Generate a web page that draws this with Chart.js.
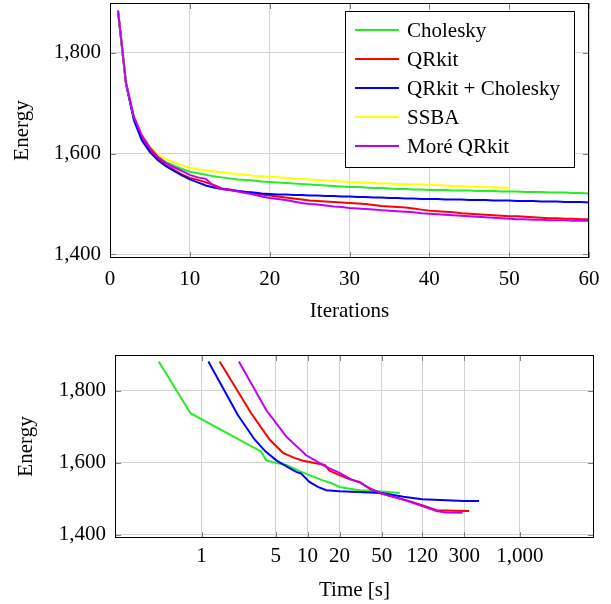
<!DOCTYPE html>
<html>
<head>
<meta charset="utf-8">
<script src="https://cdn.jsdelivr.net/npm/chart.js@4.4.0/dist/chart.umd.min.js"></script>
<style>
  body { margin: 0; background: #fff; }
  #wrap { position: relative; width: 611px; height: 604px; }
  canvas { position: absolute; left: 0; }
  #iterChart { top: 0; }
  #timeChart { top: 335px; }
</style>
</head>
<body>
<div id="wrap">
  <canvas id="iterChart" width="611" height="335"></canvas>
  <canvas id="timeChart" width="611" height="269"></canvas>
</div>
<script>
// ---- data ----
const seriesNames = ['Cholesky', 'QRkit', 'QRkit + Cholesky', 'SSBA', 'Moré QRkit'];
const seriesColors = ['#22ee22', '#ff0000', '#0000ff', '#ffff00', '#bf00ff'];

const yTicks = [1400, 1600, 1800];
const xTicksIter = [0, 10, 20, 30, 40, 50, 60];
const xTicksTime = [1, 5, 10, 20, 50, 120, 300, 1000];

// energy per iteration (iterations 1..n)
const choleskyIter = [1884, 1740, 1672, 1636, 1612, 1594, 1583, 1576, 1570, 1564,
  1561, 1558, 1555, 1553, 1551, 1549, 1548, 1547, 1545, 1544,
  1543, 1542, 1541, 1540, 1539, 1538, 1537, 1536, 1535, 1534,
  1534, 1533, 1532, 1532, 1531, 1530, 1530, 1529, 1529, 1528,
  1528, 1528, 1527, 1527, 1527, 1526, 1526, 1526, 1525, 1525,
  1525, 1524, 1524, 1524, 1523, 1523, 1523, 1522, 1522, 1521];
const qrkitIter = [1884, 1740, 1670, 1632, 1608, 1591, 1578, 1568, 1559, 1552,
  1548, 1543, 1538, 1531, 1529, 1526, 1524, 1522, 1519, 1517,
  1515, 1513, 1511, 1509, 1507, 1506, 1505, 1504, 1503, 1502,
  1501, 1500, 1498, 1496, 1495, 1494, 1493, 1491, 1489, 1487,
  1486, 1485, 1484, 1482, 1481, 1480, 1479, 1478, 1477, 1476,
  1476, 1475, 1474, 1473, 1472, 1472, 1471, 1471, 1470, 1470];
const qrkitCholIter = [1884, 1738, 1666, 1626, 1603, 1587, 1575, 1566, 1557, 1549,
  1543, 1537, 1533, 1530, 1528, 1526, 1524, 1523, 1521, 1520,
  1519, 1519, 1518, 1518, 1517, 1517, 1516, 1516, 1515, 1515,
  1514, 1514, 1513, 1513, 1512, 1512, 1511, 1511, 1510, 1510,
  1510, 1509, 1509, 1509, 1508, 1508, 1508, 1507, 1507, 1507,
  1506, 1506, 1506, 1505, 1505, 1505, 1504, 1504, 1504, 1503];
const ssbaIter = [1884, 1741, 1674, 1638, 1614, 1598, 1589, 1583, 1577, 1572,
  1569, 1567, 1565, 1563, 1561, 1559, 1558, 1556, 1555, 1554,
  1553, 1552, 1551, 1550, 1549, 1548, 1547, 1546, 1545, 1544,
  1543, 1543, 1542, 1541, 1541, 1540, 1540, 1539, 1539, 1538,
  1538, 1537, 1536, 1536, 1535, 1534, 1534, 1533, 1533, 1532];
const moreIter = [1884, 1742, 1673, 1636, 1612, 1594, 1582, 1573, 1566, 1558,
  1553, 1550, 1536, 1530, 1528, 1525, 1522, 1519, 1515, 1512,
  1510, 1508, 1505, 1502, 1500, 1499, 1497, 1495, 1494, 1492,
  1491, 1490, 1489, 1488, 1487, 1486, 1485, 1484, 1482, 1481,
  1480, 1479, 1478, 1477, 1476, 1475, 1474, 1473, 1472, 1471,
  1470, 1470, 1469, 1469, 1468, 1468, 1468, 1467, 1467, 1467];

// energy against wall time [s]
const choleskyTime = [0.395, 0.787, 3.66, 4.07, 5.0, 6.3, 8.4, 10.4, 13.7, 17.3, 20, 25, 31, 50, 74];
const choleskyTimeE = [1882, 1738, 1631, 1607, 1600, 1594, 1577, 1566, 1552, 1542, 1533, 1528, 1524, 1520, 1516];
const qrkitTime = [1.48, 2.94, 4.38, 5.85, 7.5, 9.04, 14.5, 16.1, 20, 24.9, 31, 38.5, 50, 85, 120, 164, 300, 333];
const qrkitTimeE = [1882, 1738, 1665, 1628, 1614, 1606, 1594, 1578, 1566, 1554, 1547, 1528, 1514, 1496, 1482, 1468, 1466, 1466];
const qrkitCholTime = [1.16, 2.2, 3.16, 4.0, 5.07, 6.5, 7.8, 8.7, 10.4, 12.5, 15, 20, 50, 80, 120, 300, 413];
const qrkitCholTimeE = [1882, 1733, 1665, 1632, 1607, 1588, 1575, 1570, 1547, 1533, 1524, 1521, 1516, 1506, 1499, 1494, 1494];
const moreTime = [2.25, 4.07, 6.3, 9.7, 15, 20, 24.9, 31, 40, 50, 85, 120, 164, 200, 288];
const moreTimeE = [1882, 1747, 1673, 1621, 1589, 1572, 1556, 1545, 1527, 1515, 1495, 1480, 1466, 1462, 1461];

// ---- helpers ----
const serif = "'Liberation Serif', 'DejaVu Serif', serif";
const fmt = v => Number(v).toLocaleString('en-US');

function pairs(xs, ys) {
  return ys.map((y, i) => ({ x: xs[i], y: y }));
}
function iterPairs(ys) {
  return ys.map((y, i) => ({ x: i + 1, y: y }));
}

// pgfplots-like frame with small inward tick marks
const framePlugin = {
  id: 'frame',
  beforeDatasetsDraw(chart) {
    const { ctx, chartArea: a, scales } = chart;
    ctx.save();
    ctx.strokeStyle = '#808080';
    ctx.lineWidth = 1;
    ctx.beginPath();
    scales.x.ticks.forEach(t => {
      const px = Math.round(scales.x.getPixelForValue(t.value)) + 0.5;
      ctx.moveTo(px, a.bottom); ctx.lineTo(px, a.bottom - 6);
      ctx.moveTo(px, a.top); ctx.lineTo(px, a.top + 6);
    });
    scales.y.ticks.forEach(t => {
      const py = Math.round(scales.y.getPixelForValue(t.value)) + 0.5;
      ctx.moveTo(a.left, py); ctx.lineTo(a.left + 6, py);
      ctx.moveTo(a.right, py); ctx.lineTo(a.right - 6, py);
    });
    ctx.stroke();
    ctx.restore();
  },
  afterDatasetsDraw(chart) {
    const { ctx, chartArea: a } = chart;
    ctx.save();
    ctx.strokeStyle = '#000';
    ctx.lineWidth = 1;
    ctx.strokeRect(Math.round(a.left) + 0.5, Math.round(a.top) + 0.5,
      Math.round(a.right - a.left) - 1, Math.round(a.bottom - a.top) - 1);
    ctx.restore();
  }
};

// legend box drawn inside the plot area (top right)
const boxLegend = {
  id: 'boxLegend',
  afterDraw(chart) {
    const { ctx, chartArea: a } = chart;
    const sets = chart.data.datasets;
    const w = 229, rowH = 29;
    const h = sets.length * rowH + 11;
    const x0 = a.right - 15 - w, y0 = a.top + 8;
    ctx.save();
    ctx.fillStyle = '#fff';
    ctx.fillRect(x0, y0, w, h);
    ctx.strokeStyle = '#000';
    ctx.lineWidth = 1;
    ctx.strokeRect(x0 + 0.5, y0 + 0.5, w, h);
    ctx.font = '21px ' + serif;
    ctx.textBaseline = 'middle';
    ctx.fillStyle = '#000';
    sets.forEach((ds, i) => {
      const cy = y0 + 19 + i * rowH;
      ctx.strokeStyle = ds.borderColor;
      ctx.lineWidth = 2;
      ctx.beginPath();
      ctx.moveTo(x0 + 10, cy); ctx.lineTo(x0 + 54, cy);
      ctx.stroke();
      ctx.fillText(ds.label, x0 + 62, cy + 1);
    });
    ctx.restore();
  }
};

function yAxis(min, max, width, titlePad) {
  return {
    min: min, max: max,
    afterBuildTicks: s => { s.ticks = yTicks.map(v => ({ value: v })); },
    afterFit: s => { s.width = width; s.paddingTop = 0; s.paddingBottom = 0; },
    grid: { color: '#d3d3d3', drawTicks: false },
    border: { display: false },
    ticks: { color: '#000', padding: 9, font: { family: serif, size: 21 }, callback: v => fmt(v) },
    title: { display: true, text: 'Energy', color: '#000', padding: { top: titlePad }, font: { family: serif, size: 21 } }
  };
}

function xAxisBase(height, tickPad, titleText, titlePad) {
  return {
    afterFit: s => { s.height = height; s.paddingLeft = 0; s.paddingRight = 0; },
    grid: { color: '#d3d3d3', drawTicks: false },
    border: { display: false },
    ticks: { color: '#000', padding: tickPad, maxRotation: 0, autoSkip: false, font: { family: serif, size: 21 }, callback: v => fmt(v) },
    title: { display: true, text: titleText, color: '#000', padding: { bottom: titlePad }, font: { family: serif, size: 21 } }
  };
}

Chart.defaults.animation = false;

// ---- top: energy vs iterations ----
const iterSeries = [choleskyIter, qrkitIter, qrkitCholIter, ssbaIter, moreIter];
new Chart(document.getElementById('iterChart'), {
  type: 'line',
  data: {
    datasets: iterSeries.map((ys, i) => ({
      label: seriesNames[i],
      data: iterPairs(ys),
      borderColor: seriesColors[i],
      borderWidth: 2,
      pointRadius: 0,
      order: 5 - i
    }))
  },
  options: {
    responsive: false,
    layout: { padding: { left: 0, right: 22, top: 3, bottom: 0 } },
    plugins: { legend: { display: false }, tooltip: { enabled: false } },
    scales: {
      x: Object.assign(xAxisBase(77, 9, 'Iterations', 11), {
        type: 'linear', min: 0, max: 60,
        afterBuildTicks: s => { s.ticks = xTicksIter.map(v => ({ value: v })); }
      }),
      y: yAxis(1393, 1899, 110, 10)
    }
  },
  plugins: [framePlugin, boxLegend]
});

// ---- bottom: energy vs time (log) ----
const timeX = [choleskyTime, qrkitTime, qrkitCholTime, moreTime];
const timeY = [choleskyTimeE, qrkitTimeE, qrkitCholTimeE, moreTimeE];
const timeIdx = [0, 1, 2, 4];
new Chart(document.getElementById('timeChart'), {
  type: 'line',
  data: {
    datasets: timeIdx.map((k, i) => ({
      label: seriesNames[k],
      data: pairs(timeX[i], timeY[i]),
      borderColor: seriesColors[k],
      borderWidth: 2,
      pointRadius: 0,
      order: 4 - i
    }))
  },
  options: {
    responsive: false,
    layout: { padding: { left: 0, right: 17, top: 20, bottom: 0 } },
    plugins: { legend: { display: false }, tooltip: { enabled: false } },
    scales: {
      x: Object.assign(xAxisBase(66, 6, 'Time [s]', 1), {
        type: 'logarithmic', min: 0.153, max: 5000,
        afterBuildTicks: s => { s.ticks = xTicksTime.map(v => ({ value: v })); }
      }),
      y: yAxis(1391, 1900, 115, 14)
    }
  },
  plugins: [framePlugin]
});
</script>
</body>
</html>
